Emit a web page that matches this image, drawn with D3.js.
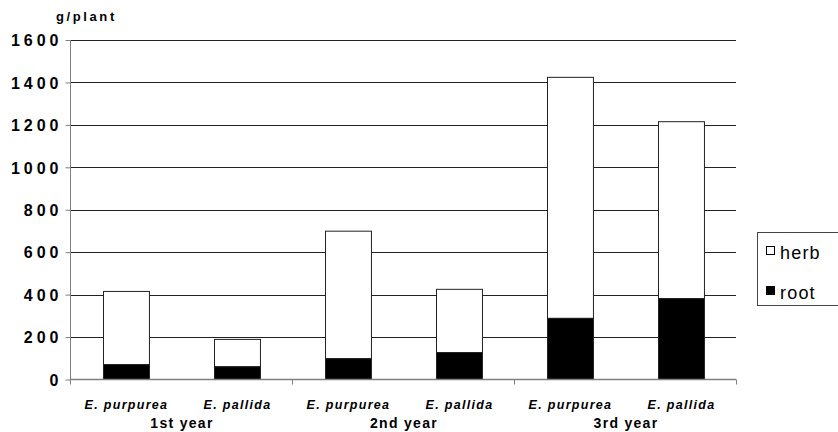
<!DOCTYPE html>
<html><head><meta charset="utf-8">
<script src="https://cdn.jsdelivr.net/npm/d3@7"></script>
<style>body{margin:0;background:#fff}</style>
</head><body>
<svg id="c" width="838" height="432"></svg>
<script>
const categories = ["E. purpurea","E. pallida","E. purpurea","E. pallida","E. purpurea","E. pallida"];
const groups = ["1st year","2nd year","3rd year"];
const root = [70, 60, 98, 127, 288, 381];
const total = [415, 189, 699, 425, 1424, 1215];
const herb = total.map((t,i)=>t-root[i]);
const yTicks = [0,200,400,600,800,1000,1200,1400,1600];
const seriesNames = ["herb","root"];

const FF = "Liberation Sans, Arial, Helvetica, sans-serif";
const svg = d3.select("#c");
const L=70, R=736, T=40, B=379.5;
const x = d3.scaleBand().domain(d3.range(categories.length)).range([L,R]).paddingInner(0.586).paddingOuter(0.293);
const y = d3.scaleLinear().domain([0,1600]).range([B,T]);
const gx = d3.scaleBand().domain(groups).range([L,R]);

// gridlines
svg.append("g").selectAll("line").data(yTicks.filter(d=>d>0)).join("line")
  .attr("x1",L).attr("x2",R).attr("y1",d=>Math.round(y(d))+0.5).attr("y2",d=>Math.round(y(d))+0.5)
  .attr("stroke","#222").attr("stroke-width",1);

// y axis
const ya = svg.append("g").attr("transform",`translate(${L+0.5},0)`)
  .call(d3.axisLeft(y).tickValues(yTicks).tickSize(5).tickPadding(6).tickFormat(d=>d));
ya.select(".domain").attr("stroke","#808080").attr("d",`M0,${T}V${B}`);
ya.selectAll(".tick line").attr("stroke","#808080");
ya.selectAll(".tick text").attr("font-family",null).attr("font-size",null)
  .style("font-family",FF).style("font-size","16px").style("font-weight","bold").attr("fill","#000")
  .style("letter-spacing","4px").attr("dx","3px").attr("dy","0.36em");

// bars
const stack = svg.append("g");
stack.selectAll("rect.herb").data(categories).join("rect").attr("class","herb")
  .attr("x",(d,i)=>Math.round(x(i))+0.5).attr("width",x.bandwidth())
  .attr("y",(d,i)=>y(total[i])).attr("height",(d,i)=>y(root[i])-y(total[i]))
  .attr("fill","#fff").attr("stroke","#222").attr("stroke-width",1);
stack.selectAll("rect.root").data(categories).join("rect").attr("class","root")
  .attr("x",(d,i)=>Math.round(x(i))+0.5).attr("width",x.bandwidth())
  .attr("y",(d,i)=>y(root[i])).attr("height",(d,i)=>y(0)-y(root[i]))
  .attr("fill","#000").attr("stroke","#222").attr("stroke-width",1);

// x axis
const xa = svg.append("g");
xa.append("line").attr("x1",L).attr("x2",R).attr("y1",B).attr("y2",B).attr("stroke","#808080").attr("stroke-width",1.5);
xa.selectAll("line.t").data([0,1,2,3]).join("line").attr("class","t")
  .attr("x1",i=>L+i*gx.bandwidth()+0.5).attr("x2",i=>L+i*gx.bandwidth()+0.5)
  .attr("y1",B).attr("y2",B+5).attr("stroke","#808080");
xa.selectAll("text.cat").data(categories).join("text").attr("class","cat")
  .attr("x",(d,i)=>x(i)+x.bandwidth()/2+1).attr("y",409).attr("text-anchor","middle")
  .style("font-family",FF).style("font-size","12.5px")
  .style("font-weight","bold").style("font-style","italic").style("letter-spacing","1.3px").text(d=>d);
xa.selectAll("text.grp").data(groups).join("text").attr("class","grp")
  .attr("x",d=>gx(d)+gx.bandwidth()/2+1).attr("y",428).attr("text-anchor","middle")
  .style("font-family",FF).style("font-size","14px")
  .style("font-weight","bold").style("letter-spacing","1.3px").text(d=>d);

// title
svg.append("text").attr("x",56).attr("y",21).style("font-family",FF)
  .style("font-size","13px").style("font-weight","bold").style("letter-spacing","2.6px").text("g/plant");

// legend
const lg = svg.append("g");
lg.append("rect").attr("x",757.5).attr("y",232.5).attr("width",90).attr("height",73).attr("fill","#fff").attr("stroke","#444");
const fills = {herb:"#fff", root:"#000"};
seriesNames.forEach((s,i)=>{
  const yy = 253 + i*40;
  lg.append("rect").attr("x",766.5).attr("y",yy-6.5).attr("width",8).attr("height",8)
    .attr("fill",fills[s]).attr("stroke","#000");
  lg.append("text").attr("x",780).attr("y",yy+6).style("font-family",FF)
    .style("font-size","18px").style("letter-spacing","1.2px").text(s);
});
</script>
</body></html>
